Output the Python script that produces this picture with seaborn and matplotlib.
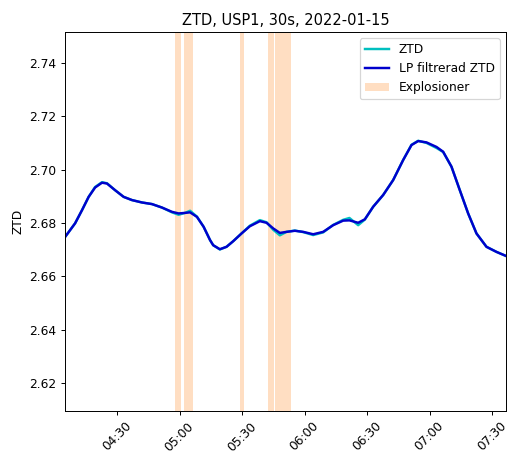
import pandas as pd
import numpy as np
import matplotlib
matplotlib.use("Agg")
import matplotlib.pyplot as plt
import matplotlib.dates as mdates
import seaborn as sns

day = "2022-01-15 "

# tidpunkter (HH:MM:SS) och avlästa ZTD-värden
tider = ["04:05:00", "04:09:48", "04:13:06", "04:16:18", "04:19:24", "04:22:42",
         "04:25:06", "04:29:00", "04:33:06", "04:37:06", "04:41:54", "04:46:42",
         "04:51:30", "04:56:18", "04:59:30", "05:02:36", "05:05:00", "05:08:18",
         "05:11:30", "05:14:36", "05:16:06", "05:19:18", "05:22:30", "05:25:42",
         "05:29:42", "05:33:42", "05:38:30", "05:41:42", "05:44:54", "05:48:06",
         "05:51:18", "05:55:18", "05:59:18", "06:04:06", "06:08:54", "06:13:42",
         "06:18:30", "06:21:30", "06:25:42", "06:28:54", "06:32:54", "06:37:42",
         "06:42:30", "06:47:18", "06:51:18", "06:54:30", "06:58:30", "07:03:18",
         "07:06:30", "07:10:30", "07:14:30", "07:18:30", "07:22:30", "07:27:18",
         "07:32:06", "07:36:54"]

ztd = [2.6748, 2.6799, 2.6848, 2.6898, 2.6935, 2.6953, 2.6949, 2.6923, 2.6898,
       2.6886, 2.6877, 2.6871, 2.6858, 2.6840, 2.6831, 2.6838, 2.6846, 2.6824,
       2.6786, 2.6736, 2.6717, 2.6701, 2.6711, 2.6732, 2.6761, 2.6790, 2.6811,
       2.6803, 2.6775, 2.6754, 2.6767, 2.6772, 2.6766, 2.6755, 2.6765, 2.6793,
       2.6812, 2.6819, 2.6792, 2.6813, 2.6861, 2.6905, 2.6961, 2.7036, 2.7093,
       2.7108, 2.7100, 2.7081, 2.7066, 2.7011, 2.6923, 2.6836, 2.6761, 2.6711,
       2.6692, 2.6676]

lp_ztd = [2.6748, 2.6799, 2.6848, 2.6898, 2.6933, 2.6951, 2.6948, 2.6923, 2.6898,
          2.6886, 2.6877, 2.6871, 2.6858, 2.6842, 2.6836, 2.6838, 2.6840, 2.6823,
          2.6786, 2.6736, 2.6717, 2.6702, 2.6711, 2.6732, 2.6761, 2.6788, 2.6807,
          2.6801, 2.6780, 2.6763, 2.6767, 2.6771, 2.6767, 2.6758, 2.6767, 2.6792,
          2.6809, 2.6810, 2.6801, 2.6814, 2.6861, 2.6905, 2.6961, 2.7036, 2.7092,
          2.7107, 2.7102, 2.7085, 2.7067, 2.7011, 2.6923, 2.6836, 2.6761, 2.6711,
          2.6692, 2.6676]

# explosioner (start, slut)
expl_start = ["04:57:36", "05:02:18", "05:29:00", "05:42:36", "05:45:48"]
expl_slut = ["05:00:42", "05:06:12", "05:31:00", "05:45:24", "05:53:30"]

df = pd.DataFrame({"tid": pd.to_datetime([day + t for t in tider]),
                   "ZTD": ztd, "LP": lp_ztd})

fig = plt.figure(figsize=(507 / 88, 465 / 88), dpi=88)
ax = fig.add_axes([0.128, 0.116, 0.870, 0.815])

sns.lineplot(data=df, x="tid", y="ZTD", color="c", linewidth=2, label="ZTD", ax=ax)
sns.lineplot(data=df, x="tid", y="LP", color="#0000cc", linewidth=2,
             label="LP filtrerad ZTD", ax=ax)

for i, (s, e) in enumerate(zip(expl_start, expl_slut)):
    ax.axvspan(pd.Timestamp(day + s), pd.Timestamp(day + e), color="C1", alpha=0.25,
               lw=0, label="Explosioner" if i == 0 else None)

ax.set_xlim(pd.Timestamp(day + "04:04:54"), pd.Timestamp(day + "07:36:40"))
ax.set_ylim(2.6096, 2.7515)
ax.xaxis.set_major_locator(mdates.MinuteLocator(byminute=[0, 30]))
ax.xaxis.set_major_formatter(mdates.DateFormatter("%H:%M"))
plt.setp(ax.get_xticklabels(), rotation=45)
ax.set_xlabel("")
ax.set_ylabel("ZTD")
ax.set_title("ZTD, USP1, 30s, 2022-01-15")
ax.legend(loc="upper right")

fig.savefig("out.png", dpi=88)
